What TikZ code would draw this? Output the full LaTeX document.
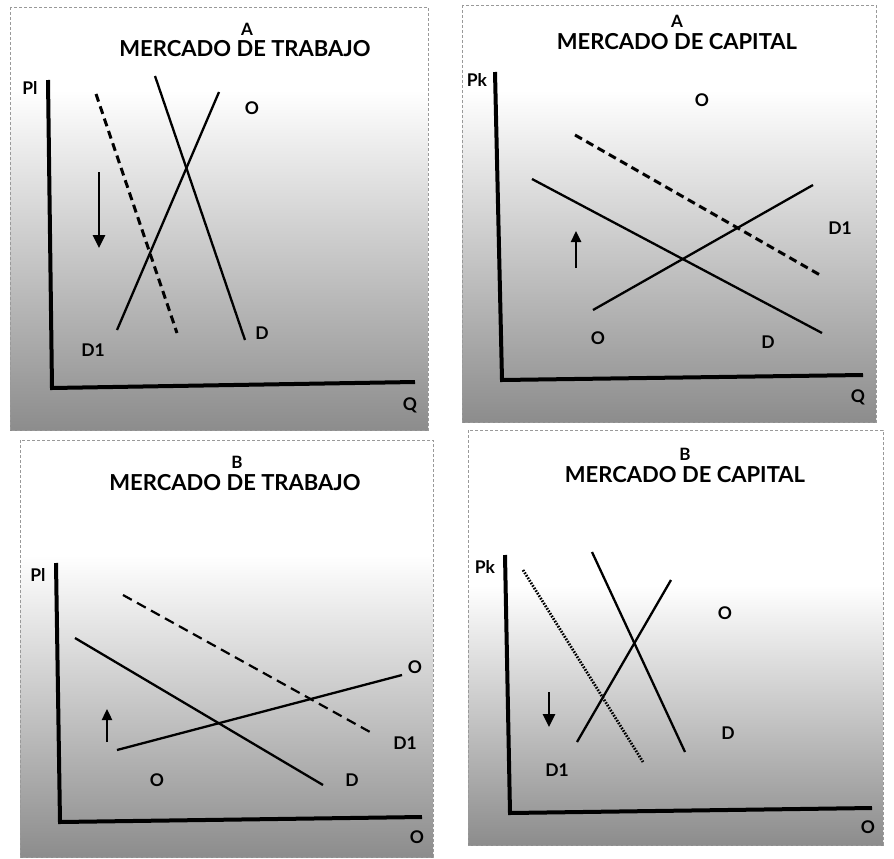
\documentclass[tikz,border=0pt]{standalone}
\usepackage{fontspec}
\setmainfont{Lato}
\usetikzlibrary{arrows.meta}
\begin{document}
\begin{tikzpicture}[x=1pt,y=-1pt]
\tikzset{
 frame/.style={draw=gray!80, dash pattern=on 3pt off 2pt, line width=0.7pt},
 axis/.style={line width=4pt, line join=miter},
 curve/.style={line width=2.3pt},
 dashcurve/.style={line width=3pt, dash pattern=on 8pt off 5pt},
 dashthin/.style={line width=2.2pt, dash pattern=on 10pt off 6pt},
 dotcurve/.style={line width=2.8pt, dash pattern=on 1.6pt off 1.4pt},
 shiftarrow/.style={line width=2.6pt, -{Triangle[length=13pt,width=12pt]}},
 smallarrow/.style={line width=2.4pt, -{Triangle[length=11pt,width=10pt]}},
 lbl/.style={font=\bfseries\fontsize{17.5}{17.5}\selectfont, inner sep=0pt},
 ttl/.style={font=\bfseries\fontsize{22}{22}\selectfont, inner sep=0pt, text height=16pt, text depth=0pt},
 ttlletter/.style={font=\bfseries\fontsize{17}{17}\selectfont, inner sep=0pt, text height=12pt, text depth=0pt},
 bgshade/.style={top color=white, bottom color=black!45}
}
\useasboundingbox (0,0) rectangle (894,859);
\fill[white] (0,0) rectangle (894,859);

% ---------- Panel 1: A Mercado de trabajo ----------
\shade[bgshade] (10,90) rectangle (428,430);
\draw[frame] (10,7) rectangle (428,430);
\node[ttlletter] (t1a) at (247,30) {A};
\node[ttl] (t1) at (245,49) {MERCADO DE TRABAJO};
\coordinate (a1y) at (48,80);
\coordinate (a1o) at (52,388);
\coordinate (a1x) at (415,382);
\draw[axis] (a1y) -- (a1o) -- (a1x);
\node[lbl] (p1pl) at (30,88) {Pl};
\node[lbl] (p1q) at (410,405) {Q};
\coordinate (p1d1) at (155,76);  \coordinate (p1d2) at (245,340);
\coordinate (p1o1) at (117,330); \coordinate (p1o2) at (219,92);
\coordinate (p1n1) at (96,94);   \coordinate (p1n2) at (177,333);
\draw[curve] (p1d1) -- (p1d2);
\draw[curve] (p1o1) -- (p1o2);
\draw[dashcurve] (p1n1) -- (p1n2);
\coordinate (p1a1) at (99,172); \coordinate (p1a2) at (99,248);
\draw[shiftarrow] (p1a1) -- (p1a2);
\node[lbl] (p1lo) at (252,108) {O};
\node[lbl] (p1ld) at (262,333) {D};
\node[lbl] (p1ld1) at (93,350) {D1};

% ---------- Panel 2: A Mercado de capital ----------
\shade[bgshade] (462,90) rectangle (876,422);
\draw[frame] (462,5) rectangle (876,422);
\node[ttlletter] (t2a) at (677,22) {A};
\node[ttl] (t2) at (677,42) {MERCADO DE CAPITAL};
\coordinate (a2y) at (495,72);
\coordinate (a2o) at (502,380);
\coordinate (a2x) at (863,375);
\draw[axis] (a2y) -- (a2o) -- (a2x);
\node[lbl] (p2pk) at (477,80) {Pk};
\node[lbl] (p2q) at (858,397) {Q};
\coordinate (p2d1) at (532,179);  \coordinate (p2d2) at (822,333);
\coordinate (p2o1) at (593,310);  \coordinate (p2o2) at (813,185);
\coordinate (p2n1) at (575,135);  \coordinate (p2n2) at (820,275);
\draw[curve] (p2d1) -- (p2d2);
\draw[curve] (p2o1) -- (p2o2);
\draw[dashcurve] (p2n1) -- (p2n2);
\coordinate (p2a1) at (576,268); \coordinate (p2a2) at (576,231);
\draw[smallarrow] (p2a1) -- (p2a2);
\node[lbl] (p2lo) at (702,100) {O};
\node[lbl] (p2ld1) at (840,228) {D1};
\node[lbl] (p2lo2) at (598,338) {O};
\node[lbl] (p2ld) at (768,342) {D};

% ---------- Panel 3: B Mercado de trabajo ----------
\shade[bgshade] (20,555) rectangle (433,857);
\draw[frame] (20,440) rectangle (433,857);
\node[ttlletter] (t3a) at (237,462) {B};
\node[ttl] (t3) at (235,482) {MERCADO DE TRABAJO};
\coordinate (a3y) at (56,563);
\coordinate (a3o) at (60,822);
\coordinate (a3x) at (422,817);
\draw[axis] (a3y) -- (a3o) -- (a3x);
\node[lbl] (p3pl) at (38,575) {Pl};
\node[lbl] (p3q) at (417,837) {O};
\coordinate (p3d1) at (75,638);   \coordinate (p3d2) at (323,785);
\coordinate (p3o1) at (117,750);  \coordinate (p3o2) at (402,675);
\coordinate (p3n1) at (123,595);  \coordinate (p3n2) at (370,732);
\draw[curve] (p3d1) -- (p3d2);
\draw[curve] (p3o1) -- (p3o2);
\draw[dashthin] (p3n1) -- (p3n2);
\coordinate (p3a1) at (107,742); \coordinate (p3a2) at (107,709);
\draw[smallarrow] (p3a1) -- (p3a2);
\node[lbl] (p3lo) at (415,667) {O};
\node[lbl] (p3ld1) at (405,743) {D1};
\node[lbl] (p3lo2) at (157,780) {O};
\node[lbl] (p3ld) at (352,780) {D};

% ---------- Panel 4: B Mercado de capital ----------
\shade[bgshade] (468,585) rectangle (883,845);
\draw[frame] (468,430) rectangle (883,845);
\node[ttlletter] (t4a) at (685,454) {B};
\node[ttl] (t4) at (685,474) {MERCADO DE CAPITAL};
\coordinate (a4y) at (505,555);
\coordinate (a4o) at (510,813);
\coordinate (a4x) at (872,808);
\draw[axis] (a4y) -- (a4o) -- (a4x);
\node[lbl] (p4pk) at (485,567) {Pk};
\node[lbl] (p4q) at (868,827) {O};
\coordinate (p4d1) at (592,552);  \coordinate (p4d2) at (685,752);
\coordinate (p4o1) at (577,742);  \coordinate (p4o2) at (671,580);
\coordinate (p4n1) at (523,570);  \coordinate (p4n2) at (643,762);
\draw[curve] (p4d1) -- (p4d2);
\draw[curve] (p4o1) -- (p4o2);
\draw[dotcurve] (p4n1) -- (p4n2);
\coordinate (p4a1) at (549,692); \coordinate (p4a2) at (549,727);
\draw[shiftarrow] (p4a1) -- (p4a2);
\node[lbl] (p4lo) at (725,613) {O};
\node[lbl] (p4ld) at (728,733) {D};
\node[lbl] (p4ld1) at (557,770) {D1};
\end{tikzpicture}
\end{document}
